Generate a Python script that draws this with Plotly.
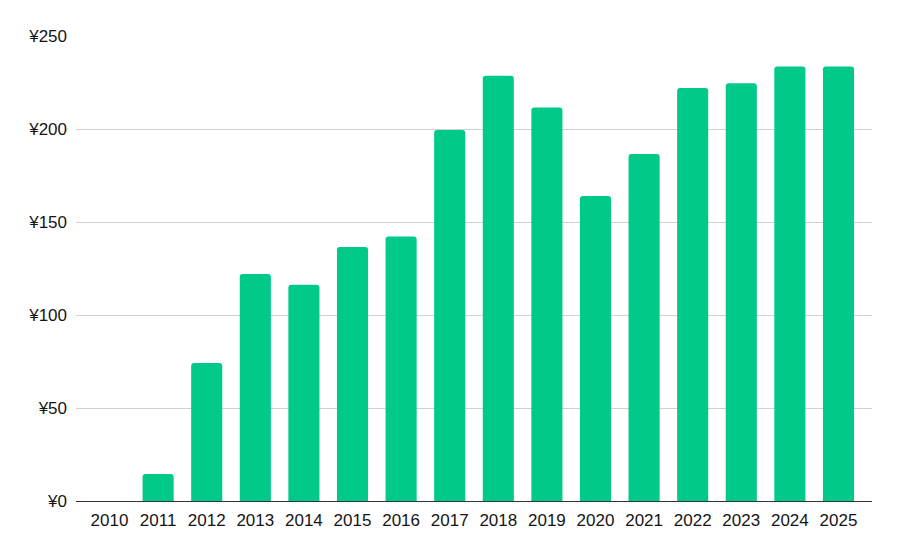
import plotly.graph_objects as go

years = [str(y) for y in range(2010, 2026)]
values = [0, 14.5, 74.2, 122.0, 116.2, 136.6, 142.2, 199.5, 228.6, 211.5, 164.0, 186.6, 222.0, 224.6, 233.6, 233.6]
tick_vals = [0, 50, 100, 150, 200, 250]
tick_text = ["¥0", "¥50", "¥100", "¥150", "¥200", "¥250"]

fig = go.Figure(go.Bar(
    x=years, y=values,
    marker=dict(color="#00c98a", cornerradius=3, line=dict(width=0)),
))

# page body has an 8px default margin, so offsets are compensated here
fig.update_layout(
    width=897, height=554,
    margin=dict(l=68, r=33, t=28, b=61),
    plot_bgcolor="white", paper_bgcolor="white",
    bargap=0.36,
    showlegend=False,
    font=dict(family="Liberation Sans, Arial, sans-serif", size=17, color="#151515"),
)
fig.update_xaxes(
    type="category", range=[-0.69, 15.69], automargin=False,
    showgrid=False, showline=True, linecolor="#333333", linewidth=1.2,
    ticks="", ticklabelstandoff=3, tickfont=dict(size=17, color="#151515"),
)
fig.update_yaxes(
    range=[0, 250], tickvals=tick_vals, ticktext=tick_text, automargin=False,
    showgrid=True, gridcolor="#d0d0d0", gridwidth=1,
    zeroline=False, ticks="", ticklabelstandoff=8,
    tickfont=dict(size=17, color="#151515"),
)

fig.write_html("out.html")
